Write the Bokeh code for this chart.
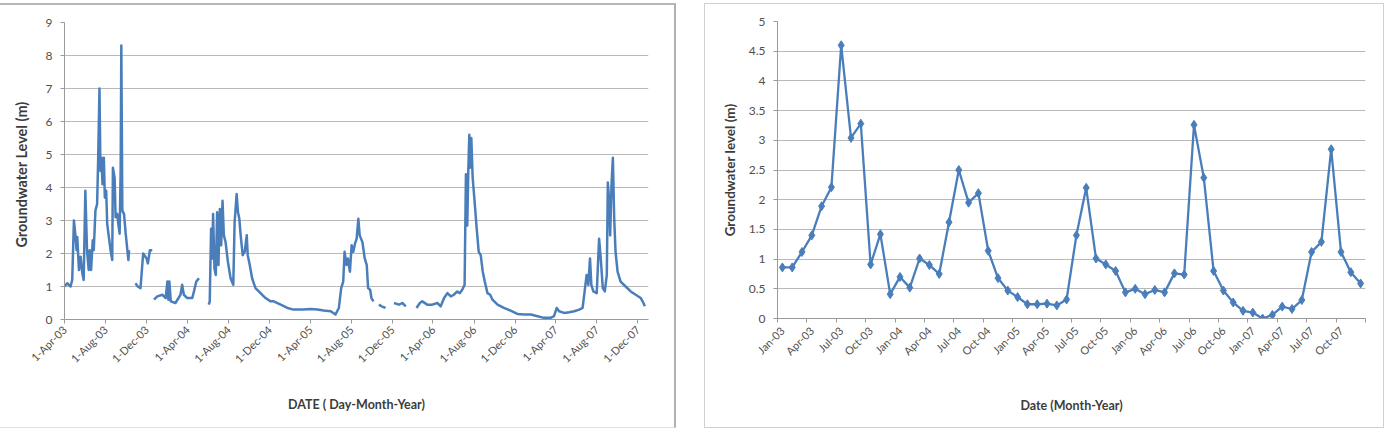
import math
import numpy as np
import pandas as pd
from bokeh.plotting import figure
from bokeh.layouts import row
from bokeh.models import Range1d, FixedTicker, NumeralTickFormatter
from bokeh.embed import file_html
from bokeh.resources import INLINE

FONT = "Lato"
BLUE = "#4a7ebb"
TICK_COLOR = "#505050"
LABEL_COLOR = "#3c3c3c"
GRID_COLOR = "#b9b9b9"
AXIS_COLOR = "#9a9a9a"

# ---- daily record (None marks a break in the record) ----
daily_dates = [
    "2003-04-01", "2003-04-09", "2003-04-19", "2003-04-24", "2003-04-29", "2003-05-04",
    "2003-05-07", "2003-05-09", "2003-05-14", "2003-05-19", "2003-05-24", "2003-05-28",
    "2003-06-02", "2003-06-07", "2003-06-12", "2003-06-15", "2003-06-19", "2003-06-24",
    "2003-06-27", "2003-07-02", "2003-07-07", "2003-07-10", "2003-07-14", "2003-07-17",
    "2003-07-20", "2003-07-23", "2003-07-27", "2003-07-30", "2003-08-03", "2003-08-06",
    "2003-08-11", "2003-08-16", "2003-08-21", "2003-08-23", "2003-08-28", "2003-08-31",
    "2003-09-05", "2003-09-08", "2003-09-12", "2003-09-15", "2003-09-17", "2003-09-20",
    "2003-09-25", "2003-09-30", "2003-10-05", "2003-10-08", "2003-10-10",
    "2003-10-20",
    "2003-10-29", "2003-11-05", "2003-11-13", "2003-11-21", "2003-12-01", "2003-12-05",
    "2003-12-11", "2003-12-18",
    "2003-12-20",
    "2003-12-23", "2004-01-02", "2004-01-17", "2004-01-27", "2004-02-01", "2004-02-04",
    "2004-02-07", "2004-02-11", "2004-02-25", "2004-03-11", "2004-03-16", "2004-03-21",
    "2004-03-31", "2004-04-15", "2004-04-20", "2004-04-27", "2004-05-05",
    "2004-05-20",
    "2004-06-03", "2004-06-06", "2004-06-10", "2004-06-13", "2004-06-16", "2004-06-20",
    "2004-06-24", "2004-06-28", "2004-07-02", "2004-07-06", "2004-07-10", "2004-07-14",
    "2004-07-18", "2004-07-23", "2004-07-30", "2004-08-07", "2004-08-15", "2004-08-19",
    "2004-08-25", "2004-08-29", "2004-09-02", "2004-09-06", "2004-09-12", "2004-09-18",
    "2004-09-24", "2004-09-27", "2004-10-03", "2004-10-10", "2004-10-20", "2004-11-04",
    "2004-11-19", "2004-12-04", "2004-12-13", "2005-01-03", "2005-01-23", "2005-02-10",
    "2005-03-12", "2005-04-02", "2005-04-22", "2005-05-11", "2005-06-01", "2005-06-15",
    "2005-06-25", "2005-07-02", "2005-07-08", "2005-07-12", "2005-07-18", "2005-07-22",
    "2005-07-28", "2005-08-02", "2005-08-07", "2005-08-12", "2005-08-17", "2005-08-22",
    "2005-08-26", "2005-09-03", "2005-09-10", "2005-09-16", "2005-09-20", "2005-09-26",
    "2005-09-30", "2005-10-06",
    "2005-10-14",
    "2005-10-22", "2005-10-30", "2005-11-11",
    "2005-11-25",
    "2005-12-06", "2005-12-21", "2005-12-31", "2006-01-10",
    "2006-01-25",
    "2006-02-11", "2006-02-21", "2006-02-28", "2006-03-15", "2006-03-30", "2006-04-14",
    "2006-04-24", "2006-05-04", "2006-05-14", "2006-05-24", "2006-06-02", "2006-06-12",
    "2006-06-20", "2006-06-27", "2006-07-04", "2006-07-08", "2006-07-12", "2006-07-15",
    "2006-07-18", "2006-07-20", "2006-07-24", "2006-07-28", "2006-08-03", "2006-08-09",
    "2006-08-15", "2006-08-21", "2006-08-27", "2006-09-02", "2006-09-10", "2006-09-18",
    "2006-09-25", "2006-10-10", "2006-10-29", "2006-11-18", "2006-12-08", "2006-12-28",
    "2007-01-17", "2007-02-06", "2007-02-25", "2007-03-17", "2007-03-27", "2007-04-04",
    "2007-04-11", "2007-04-26", "2007-05-11", "2007-05-26", "2007-06-10", "2007-06-20",
    "2007-06-26", "2007-07-02", "2007-07-07", "2007-07-12", "2007-07-16", "2007-07-22",
    "2007-08-01", "2007-08-08", "2007-08-13", "2007-08-19", "2007-08-25", "2007-08-31",
    "2007-09-03", "2007-09-07", "2007-09-10", "2007-09-14", "2007-09-18", "2007-09-22",
    "2007-09-26", "2007-10-02", "2007-10-11", "2007-10-26", "2007-11-10", "2007-11-25",
    "2007-12-10", "2007-12-18", "2007-12-22",
]
daily_level = [
    1.0, 1.1, 1.0, 1.2, 3.0, 2.5,
    2.1, 2.5, 1.5, 1.9, 1.4, 1.2,
    3.9, 2.1, 1.5, 2.1, 1.5, 2.4,
    2.1, 3.3, 3.5, 4.8, 7.0, 4.5,
    4.9, 4.1, 4.9, 3.7, 3.9, 2.9,
    2.5, 2.1, 1.8, 4.6, 4.3, 3.1,
    3.2, 2.9, 2.6, 4.5, 8.3, 3.3,
    3.2, 2.6, 2.1, 1.8, 2.1,
    None,
    1.1, 1.0, 0.95, 2.0, 1.85, 1.7,
    2.1, 2.1,
    None,
    0.6, 0.7, 0.75, 0.65, 1.15, 0.6,
    1.15, 0.55, 0.5, 0.75, 1.05, 0.75,
    0.65, 0.65, 0.85, 1.15, 1.25,
    None,
    0.45, 0.55, 2.75, 1.85, 3.2, 1.55,
    1.35, 3.25, 1.65, 3.35, 2.25, 3.6,
    2.55, 2.35, 1.75, 1.25, 1.05, 2.95,
    3.8, 3.25, 3.05, 2.55, 1.95, 2.05,
    2.55, 1.95, 1.65, 1.25, 0.95, 0.8,
    0.65, 0.55, 0.55, 0.45, 0.35, 0.3,
    0.3, 0.32, 0.3, 0.27, 0.25, 0.15,
    0.35, 0.95, 1.15, 2.05, 1.65, 1.85,
    1.45, 2.25, 2.05, 2.3, 2.45, 3.05,
    2.55, 2.35, 1.85, 1.65, 0.95, 0.9,
    0.65, 0.55,
    None,
    0.45, 0.4, 0.35,
    None,
    0.5, 0.45, 0.5, 0.4,
    None,
    0.35, 0.5, 0.55, 0.45, 0.45, 0.5,
    0.4, 0.65, 0.8, 0.7, 0.75, 0.85,
    0.8, 0.9, 1.05, 4.4, 2.85, 4.5,
    5.6, 4.6, 5.5, 4.3, 3.55, 2.75,
    2.05, 1.95, 1.45, 1.15, 0.8, 0.75,
    0.6, 0.45, 0.35, 0.27, 0.17, 0.15,
    0.15, 0.1, 0.05, 0.05, 0.1, 0.35,
    0.25, 0.2, 0.22, 0.25, 0.3, 0.35,
    0.85, 1.35, 1.05, 1.85, 1.05, 0.85,
    0.8, 2.45, 1.85, 0.95, 0.85, 1.35,
    4.15, 3.6, 2.55, 4.1, 4.9, 3.05,
    2.05, 1.45, 1.15, 1.0, 0.85, 0.75,
    0.65, 0.5, 0.4,
]

daily_ticks = ["2003-04-01", "2003-08-01", "2003-12-01", "2004-04-01", "2004-08-01",
               "2004-12-01", "2005-04-01", "2005-08-01", "2005-12-01", "2006-04-01",
               "2006-08-01", "2006-12-01", "2007-04-01", "2007-08-01", "2007-12-01"]
daily_tick_labels = ["1-Apr-03", "1-Aug-03", "1-Dec-03", "1-Apr-04", "1-Aug-04",
                     "1-Dec-04", "1-Apr-05", "1-Aug-05", "1-Dec-05", "1-Apr-06",
                     "1-Aug-06", "1-Dec-06", "1-Apr-07", "1-Aug-07", "1-Dec-07"]
daily_y_ticks = [0, 1, 2, 3, 4, 5, 6, 7, 8, 9]

# ---- monthly means ----
months = [
    "Jan-03", "Feb-03", "Mar-03", "Apr-03", "May-03", "Jun-03", "Jul-03", "Aug-03", "Sep-03", "Oct-03", "Nov-03", "Dec-03",
    "Jan-04", "Feb-04", "Mar-04", "Apr-04", "May-04", "Jun-04", "Jul-04", "Aug-04", "Sep-04", "Oct-04", "Nov-04", "Dec-04",
    "Jan-05", "Feb-05", "Mar-05", "Apr-05", "May-05", "Jun-05", "Jul-05", "Aug-05", "Sep-05", "Oct-05", "Nov-05", "Dec-05",
    "Jan-06", "Feb-06", "Mar-06", "Apr-06", "May-06", "Jun-06", "Jul-06", "Aug-06", "Sep-06", "Oct-06", "Nov-06", "Dec-06",
    "Jan-07", "Feb-07", "Mar-07", "Apr-07", "May-07", "Jun-07", "Jul-07", "Aug-07", "Sep-07", "Oct-07", "Nov-07", "Dec-07",
]
monthly_level = [
    0.86, 0.86, 1.12, 1.40, 1.89, 2.21, 4.60, 3.04, 3.28, 0.91, 1.42, 0.41,
    0.70, 0.52, 1.01, 0.90, 0.75, 1.62, 2.50, 1.95, 2.11, 1.14, 0.68, 0.47,
    0.36, 0.24, 0.24, 0.25, 0.22, 0.32, 1.40, 2.20, 1.01, 0.91, 0.80, 0.44,
    0.50, 0.41, 0.48, 0.44, 0.76, 0.74, 3.26, 2.37, 0.80, 0.47, 0.27, 0.13,
    0.10, 0.00, 0.06, 0.20, 0.16, 0.31, 1.12, 1.29, 2.85, 1.12, 0.78, 0.59,
]
monthly_y_ticks = [0, 0.5, 1, 1.5, 2, 2.5, 3, 3.5, 4, 4.5, 5]


def to_ms(s):
    return float(pd.Timestamp(s).value // 10**6)


def style_axes(p):
    for ax in (p.xaxis[0], p.yaxis[0]):
        ax.axis_line_color = AXIS_COLOR
        ax.major_tick_line_color = AXIS_COLOR
        ax.minor_tick_line_color = AXIS_COLOR
        ax.major_tick_in = 0
        ax.major_tick_out = 4
        ax.minor_tick_in = 0
        ax.minor_tick_out = 0
        ax.major_label_text_font = FONT
        ax.major_label_text_color = TICK_COLOR
        ax.axis_label_text_font = FONT
        ax.axis_label_text_color = LABEL_COLOR
        ax.axis_label_text_font_style = "bold"
    p.xgrid.visible = False
    p.ygrid.grid_line_color = GRID_COLOR
    p.ygrid.grid_line_width = 1
    p.outline_line_color = None
    p.background_fill_color = "white"
    p.border_fill_color = "white"


# ---- left panel: daily groundwater level ----
dx = pd.to_datetime(daily_dates)
dy = np.array([np.nan if v is None else v for v in daily_level], dtype=float)

p1 = figure(width=676, height=425, x_axis_type="datetime",
            x_range=Range1d(to_ms("2003-04-01"), to_ms("2008-01-02")),
            y_range=Range1d(0, 9),
            output_backend="svg", toolbar_location=None,
            min_border_left=64, min_border_right=28,
            min_border_top=17, min_border_bottom=111)
p1.line(dx, dy, line_color=BLUE, line_width=2.5, line_join="round")
style_axes(p1)
p1.xaxis.ticker = FixedTicker(ticks=[to_ms(d) for d in daily_ticks])
p1.xaxis.major_label_overrides = {to_ms(d): lab for d, lab in zip(daily_ticks, daily_tick_labels)}
p1.xaxis.major_label_orientation = math.pi / 4
p1.xaxis.major_label_text_font_size = "11px"
p1.xaxis.major_label_standoff = 4
p1.xaxis.axis_label = "DATE ( Day-Month-Year)"
p1.xaxis.axis_label_text_font_size = "12.5px"
p1.xaxis.axis_label_standoff = 24
p1.yaxis.ticker = FixedTicker(ticks=daily_y_ticks)
p1.yaxis.major_label_text_font_size = "12px"
p1.yaxis.major_label_standoff = 8
p1.yaxis.axis_label = "Groundwater  Level  (m)"
p1.yaxis.axis_label_text_font_size = "14.5px"
p1.yaxis.axis_label_standoff = 13
p1.styles = {"border-top": "2px solid #b8b8b8", "border-right": "2px solid #b0b0b0",
             "border-bottom": "1px solid #e0e0e0"}
p1.margin = (3, 0, 0, 0)

# ---- right panel: monthly groundwater level ----
mx = np.arange(len(months))
p2 = figure(width=680, height=425,
            x_range=Range1d(-0.5, len(months) - 0.5),
            y_range=Range1d(0, 5),
            output_backend="svg", toolbar_location=None,
            min_border_left=72, min_border_right=20,
            min_border_top=16, min_border_bottom=100)
p2.line(mx, monthly_level, line_color=BLUE, line_width=2.3)
p2.scatter(mx, monthly_level, marker="diamond", size=9, fill_color=BLUE,
           line_color=BLUE)
style_axes(p2)
label_idx = list(range(0, len(months), 3))
p2.xaxis.ticker = FixedTicker(ticks=label_idx,
                              minor_ticks=[i - 0.5 for i in range(0, len(months) + 1, 3)])
p2.xaxis.major_label_overrides = {i: months[i] for i in label_idx}
p2.xaxis.major_tick_out = 0
p2.xaxis.minor_tick_out = 4
p2.xaxis.major_label_orientation = math.pi / 4
p2.xaxis.major_label_text_font_size = "11px"
p2.xaxis.major_label_standoff = 6
p2.xaxis.axis_label = "Date (Month-Year)"
p2.xaxis.axis_label_text_font_size = "12.5px"
p2.xaxis.axis_label_standoff = 33
p2.yaxis.ticker = FixedTicker(ticks=monthly_y_ticks)
p2.yaxis.formatter = NumeralTickFormatter(format="0.[0]")
p2.yaxis.major_label_text_font_size = "12px"
p2.yaxis.major_label_standoff = 8
p2.yaxis.axis_label = "Groundwater level (m)"
p2.yaxis.axis_label_text_font_size = "13.5px"
p2.yaxis.axis_label_standoff = 8
p2.styles = {"border": "1px solid #d0d0d0"}
p2.margin = (3, 0, 0, 28)

layout = row(p1, p2)
open("out.html", "w").write(file_html(layout, INLINE))
